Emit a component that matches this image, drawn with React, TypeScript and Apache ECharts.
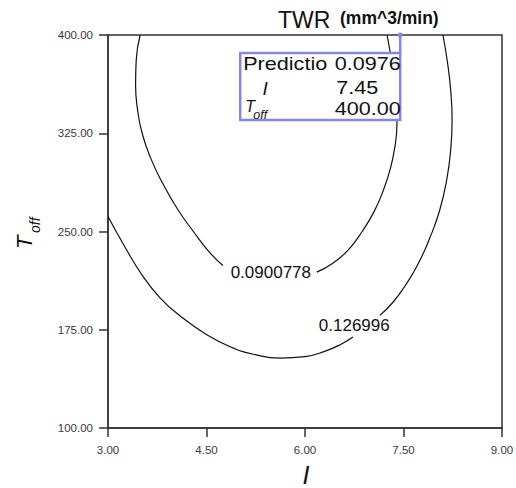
import React, { useEffect, useRef } from "react";
import * as echarts from "echarts";

// Axis ranges and tick steps
const I_RANGE = [3, 9];
const I_STEP = 1.5;
const TOFF_RANGE = [100, 400];
const TOFF_STEP = 75;

// Contour levels of TWR
const contourLevels = [0.0900778, 0.126996];

// Contour 0.0900778, split around its label: [I, Toff]
const innerLeft: number[][] = [
  [3.49, 400], [3.43, 381], [3.42, 362], [3.45, 343], [3.52, 325],
  [3.65, 306], [3.83, 287], [4.06, 267], [4.3, 250], [4.53, 235],
  [4.75, 224],
];
const innerRight: number[][] = [
  [6.18, 219], [6.43, 226], [6.66, 236], [6.87, 250], [7.05, 265],
  [7.19, 281], [7.3, 298], [7.37, 315], [7.4, 332], [7.39, 350],
  [7.34, 373], [7.25, 400],
];

// Contour 0.126996, split around its label
const outerLeft: number[][] = [
  [3.0, 261.4], [3.26, 238], [3.53, 216], [3.8, 199], [4.1, 185.5],
  [4.48, 172], [4.86, 162], [5.24, 156], [5.62, 153.4], [6.0, 154.5],
  [6.3, 158.5], [6.55, 164], [6.73, 169.5],
];
const outerRight: number[][] = [
  [7.14, 186], [7.34, 196], [7.53, 209], [7.72, 225], [7.9, 245],
  [8.05, 266], [8.16, 290], [8.22, 313], [8.24, 335], [8.22, 357],
  [8.17, 379], [8.1, 400],
];

// Where each contour value is written
const contourLabelPos: number[][] = [
  [5.48, 219],
  [6.75, 178],
];

// Probe point and its readout
const probePoint = [7.45, 400];
const probePrediction = 0.0976;
const probeRowNames = ["Predictio", "I", "T"];

const FONT = "'Liberation Sans', Arial, sans-serif";
const PROBE_COLOR = "#8686e4";

export default function App() {
  const ref = useRef<HTMLDivElement>(null);

  useEffect(() => {
    const chart = echarts.init(ref.current!, null, { renderer: "svg" });

    const contourLine = (data: number[][]) => ({
      type: "line",
      data,
      showSymbol: false,
      symbol: "none",
      smooth: 0.5,
      silent: true,
      lineStyle: { color: "#111", width: 1.2 },
      z: 3,
    });

    chart.setOption({
      animation: false,
      backgroundColor: "#fff",
      grid: {
        left: 108,
        right: 14,
        top: 35,
        bottom: 60,
        show: true,
        borderColor: "#333",
        borderWidth: 1.5,
        outerBoundsMode: "none",
      },
      xAxis: {
        type: "value",
        min: I_RANGE[0],
        max: I_RANGE[1],
        interval: I_STEP,
        axisLine: { show: true, lineStyle: { color: "#333", width: 1.5 } },
        axisTick: { show: true, length: 9, lineStyle: { color: "#333", width: 1.5 } },
        axisLabel: {
          formatter: (v: number) => v.toFixed(2),
          fontSize: 11.5,
          color: "#3a3a3a",
          margin: 16,
          fontFamily: FONT,
        },
        splitLine: { show: false },
      },
      yAxis: {
        type: "value",
        min: TOFF_RANGE[0],
        max: TOFF_RANGE[1],
        interval: TOFF_STEP,
        axisLine: { show: true, lineStyle: { color: "#333", width: 1.5 } },
        axisTick: { show: true, length: 9, lineStyle: { color: "#333", width: 1.5 } },
        axisLabel: {
          formatter: (v: number) => v.toFixed(2),
          fontSize: 11.5,
          color: "#3a3a3a",
          margin: 15,
          fontFamily: FONT,
        },
        splitLine: { show: false },
      },
      series: [
        contourLine(innerLeft),
        contourLine(innerRight),
        contourLine(outerLeft),
        contourLine(outerRight),
        {
          type: "scatter",
          data: contourLabelPos.map((p, i) => ({
            value: p,
            name: String(contourLevels[i]),
          })),
          symbolSize: 1,
          itemStyle: { color: "#fff", opacity: 0 },
          silent: true,
          label: {
            show: true,
            position: "inside",
            formatter: "{b}",
            fontSize: 17,
            color: "#111",
            opacity: 1,
            textBorderWidth: 0,
            fontFamily: FONT,
          },
          z: 4,
        },
        {
          type: "custom",
          data: [[probePoint[0], probePoint[1], probePrediction]],
          silent: true,
          clip: false,
          z: 10,
          renderItem: (_params: any, api: any) => {
            const iv = api.value(0);
            const tv = api.value(1);
            const pv = api.value(2);
            const p = api.coord([iv, tv]);
            const x = p[0];
            const y = p[1];
            const bw = 160;
            const bh = 67;
            const bx = x - bw;
            const by = y + 18;
            const valText = (text: string, tx: number, ty: number, align: string) => ({
              type: "text",
              x: tx,
              y: ty,
              scaleX: 1.2,
              style: {
                text,
                x: 0,
                y: 0,
                fill: "#111",
                font: `18px ${FONT}`,
                align,
                verticalAlign: "middle",
              },
            });
            return {
              type: "group",
              children: [
                {
                  type: "rect",
                  shape: { x: bx, y: by, width: bw, height: bh },
                  style: { fill: "#fff", stroke: PROBE_COLOR, lineWidth: 2.5 },
                },
                {
                  type: "line",
                  shape: { x1: x, y1: y, x2: x, y2: by },
                  style: { stroke: PROBE_COLOR, lineWidth: 2.5 },
                },
                {
                  type: "circle",
                  shape: { cx: x, cy: y, r: 2.5 },
                  style: { fill: PROBE_COLOR },
                },
                valText(probeRowNames[0], x - 157, y + 29, "left"),
                valText(pv.toFixed(4), x + 0.5, y + 29, "right"),
                {
                  type: "text",
                  x: x - 135,
                  y: y + 53,
                  style: {
                    text: probeRowNames[1],
                    fill: "#111",
                    font: `italic 19px ${FONT}`,
                    align: "center",
                    verticalAlign: "middle",
                  },
                },
                valText(iv.toFixed(2), x - 64, y + 53, "left"),
                {
                  type: "text",
                  x: x - 155,
                  y: y + 71,
                  style: {
                    text: probeRowNames[2],
                    fill: "#111",
                    font: `italic 16px ${FONT}`,
                    align: "left",
                    verticalAlign: "middle",
                  },
                },
                {
                  type: "text",
                  x: x - 147,
                  y: y + 80,
                  style: {
                    text: "off",
                    fill: "#111",
                    font: `italic 12.5px ${FONT}`,
                    align: "left",
                    verticalAlign: "middle",
                  },
                },
                valText(tv.toFixed(2), x + 0.5, y + 74, "right"),
              ],
            };
          },
        },
      ],
      graphic: [
        {
          type: "text",
          left: 278,
          top: 8,
          style: { text: "TWR", font: `23px ${FONT}`, fill: "#111" },
        },
        {
          type: "text",
          left: 340,
          top: 9,
          style: { text: "(mm^3/min)", font: `bold 17.5px ${FONT}`, fill: "#111" },
        },
        {
          type: "group",
          x: 32,
          y: 249,
          rotation: Math.PI / 2,
          children: [
            {
              type: "text",
              x: 0,
              y: -8,
              style: {
                text: "T",
                font: `italic 22px ${FONT}`,
                fill: "#111",
                align: "left",
                verticalAlign: "middle",
              },
            },
            {
              type: "text",
              x: 16,
              y: 3,
              style: {
                text: "off",
                font: `italic 14px ${FONT}`,
                fill: "#111",
                align: "left",
                verticalAlign: "middle",
              },
            },
          ],
        },
        {
          type: "text",
          x: 306,
          y: 475,
          style: {
            text: "I",
            font: `italic 25px ${FONT}`,
            fill: "#111",
            align: "center",
            verticalAlign: "middle",
          },
        },
      ],
    });

    return () => chart.dispose();
  }, []);

  return (
    <div
      ref={ref}
      style={{ position: "absolute", left: 0, top: 0, width: 516, height: 488, background: "#fff" }}
    />
  );
}
